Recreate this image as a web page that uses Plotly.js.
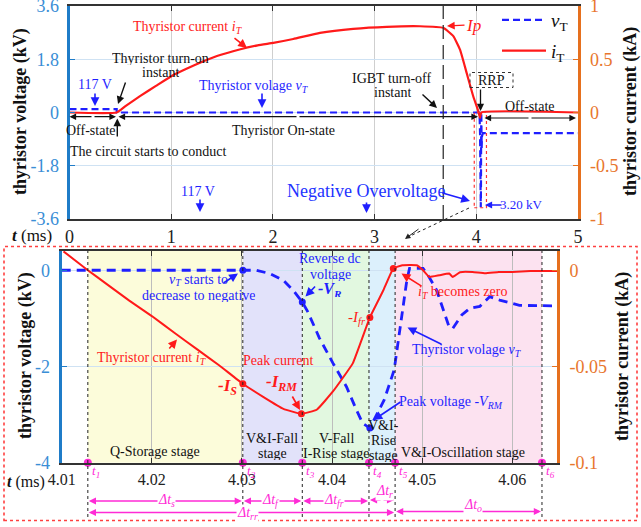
<!DOCTYPE html>
<html><head><meta charset="utf-8">
<script src="https://cdn.plot.ly/plotly-3.0.1.min.js"></script>
<style>html,body{margin:0;padding:0;background:#fff}#c{width:641px;height:527px}</style>
</head><body><div id="c"></div>
<script>
// ---------- data ----------
// Top panel, whole event (ms)
const topTimeI = [0, 0.464, 0.55, 0.693, 0.85, 1.005, 1.15, 1.283, 1.45, 1.672, 1.85, 2.004, 2.2, 2.463, 2.79, 3.119, 3.446, 3.675, 3.774, 3.84, 3.905, 3.97, 4.02, 4.036, 4.05, 5];
const topCurrent = [0, 0, 0.06, 0.154, 0.25, 0.343, 0.41, 0.467, 0.53, 0.592, 0.63, 0.654, 0.69, 0.748, 0.786, 0.805, 0.81, 0.795, 0.717, 0.59, 0.372, 0.153, 0.012, -0.05, 0, 0];
const topTimeV = [0, 0.464, 0.464, 4.03, 4.033, 4.037, 4.041, 4.044, 4.046, 4.048, 4.049, 4.051, 4.053, 4.056, 4.06, 4.065, 5];
const topVoltage = [0.117, 0.117, 0, 0, -0.2, -0.7, -2.2, -3.2, -2.6, -0.6, 0, -0.3, -1.2, -0.8, -0.7, -0.7, -0.7];

// Bottom panel, zoom on the turn-off (ms)
const zoomTimeV = [4.01, 4.0301, 4.0316, 4.0331, 4.0346, 4.0357, 4.0367, 4.0373, 4.0386, 4.0401, 4.0416, 4.0427, 4.0434, 4.0442, 4.0458, 4.0469, 4.0475, 4.0480, 4.0483, 4.0486, 4.0501, 4.0508, 4.0516, 4.0530, 4.0534, 4.0544, 4.0553, 4.0564, 4.0575, 4.0586, 4.0597, 4.0608, 4.0650];
const zoomVoltage = [0, 0, 0, -0.07, -0.21, -0.42, -0.66, -0.86, -1.41, -1.93, -2.42, -2.9, -3.18, -3.28, -2.69, -2.07, -1.31, -0.62, -0.21, 0.04, 0.04, -0.15, -0.41, -1.18, -1.21, -0.93, -0.79, -0.75, -0.55, -0.62, -0.68, -0.73, -0.74];
const zoomTimeI = [4.0102, 4.0129, 4.015, 4.0175, 4.02, 4.0225, 4.025, 4.0275, 4.0301, 4.0324, 4.0346, 4.0366, 4.0383, 4.0401, 4.0423, 4.0442, 4.0457, 4.0468, 4.0478, 4.0494, 4.0501, 4.0508, 4.0519, 4.053, 4.0534, 4.0542, 4.0556, 4.057, 4.0585, 4.06, 4.062, 4.065];
const zoomCurrent = [0.0098, 0, -0.0072, -0.0158, -0.0238, -0.0325, -0.041, -0.0495, -0.059, -0.0659, -0.072, -0.0746, -0.0725, -0.063, -0.0484, -0.0245, -0.0104, 0.0009, 0.0026, 0.0026, 0, -0.0035, -0.0026, -0.0017, -0.0035, -0.001, -0.0009, -0.0016, -0.0009, -0.0009, -0.0004, -0.0004];

// key points
const vKeyTime = [4.0301, 4.0367, 4.0442];
const vKeyVolt = [0, -0.66, -3.28];
const iKeyTime = [4.0301, 4.0366, 4.0442, 4.0468];
const iKeyCurr = [-0.059, -0.0746, -0.0245, 0.0009];

// stage boundaries t1..t6
const stageTimes = [4.0129, 4.0301, 4.0367, 4.0441, 4.0470, 4.0633];
const stageColors = ['rgba(252,252,218,1)', 'rgba(226,226,250,1)', 'rgba(226,248,224,1)', 'rgba(220,240,252,1)', 'rgba(252,226,240,1)'];
const igbtOff = 3.675;

// tick labels
const topXTicks = [0, 1, 2, 3, 4, 5];
const topVTicks = [-3.6, -1.8, 0, 1.8, 3.6];
const topVLabels = ['-3.6', '-1.8', '0', '1.8', '3.6'];
const topITicks = [-1, -0.5, 0, 0.5, 1];
const topILabels = ['-1', '-0.5', '0', '0.5', '1'];
const zoomXTicks = [4.01, 4.02, 4.03, 4.04, 4.05, 4.06];
const zoomXLabels = ['4.01', '4.02', '4.03', '4.04', '4.05', '4.06'];
const zoomVTicks = [-4, -2, 0];
const zoomVLabels = ['-4', '-2', '0'];
const zoomITicks = [-0.1, -0.05, 0];
const zoomILabels = ['-0.1', '-0.05', '0'];

// ---------- layout helpers ----------
const W = 641, H = 527;
const P = x => x / W, Q = y => 1 - y / H;
const BLUE = '#1f1fff', RED = '#ff1a1a', MAG = '#ff2bd6';
const AXB = '#1f7cc8', AXO = '#e6701e';
const FONT = 'Liberation Serif, Times New Roman, serif';

const ann = [];
function txt(x, y, text, color, size, extra) {
  ann.push(Object.assign({xref: 'paper', yref: 'paper', x: P(x), y: Q(y), text: text, showarrow: false,
    font: {family: FONT, size: size || 14, color: color || '#111'}, xanchor: 'center', yanchor: 'middle'}, extra || {}));
}
function arr(x1, y1, x2, y2, color, w) {
  ann.push({xref: 'paper', yref: 'paper', x: P(x2), y: Q(y2), ax: x1 - x2, ay: y1 - y2, axref: 'pixel', ayref: 'pixel',
    text: '', showarrow: true, arrowhead: 2, arrowsize: 1.1, arrowwidth: w || 1.3, arrowcolor: color || '#111', standoff: 0});
}

// ---------- traces ----------
const traces = [
  {x: topTimeV, y: topVoltage, xaxis: 'x', yaxis: 'y', mode: 'lines', name: '<i>v</i><sub>T</sub>', legendgroup: 'a',
   line: {color: BLUE, width: 2.2, dash: '7px,4px'}},
  {x: topTimeI, y: topCurrent, xaxis: 'x', yaxis: 'y3', mode: 'lines', name: '<i>i</i><sub>T</sub>', legendgroup: 'b',
   line: {color: RED, width: 2.2, shape: 'spline', smoothing: 0.4}},
  {x: zoomTimeV, y: zoomVoltage, xaxis: 'x2', yaxis: 'y2', mode: 'lines', showlegend: false,
   line: {color: BLUE, width: 2.8, dash: '9px,6px'}},
  {x: zoomTimeI, y: zoomCurrent, xaxis: 'x2', yaxis: 'y4', mode: 'lines', showlegend: false,
   line: {color: RED, width: 2, shape: 'spline', smoothing: 0.3}},
  {x: vKeyTime, y: vKeyVolt, xaxis: 'x2', yaxis: 'y2', mode: 'markers', showlegend: false, cliponaxis: false,
   marker: {color: BLUE, size: 7}},
  {x: iKeyTime, y: iKeyCurr, xaxis: 'x2', yaxis: 'y4', mode: 'markers', showlegend: false, cliponaxis: false,
   marker: {color: RED, size: 7}},
  {x: stageTimes, y: stageTimes.map(() => -4), xaxis: 'x2', yaxis: 'y2', mode: 'markers', showlegend: false, cliponaxis: false,
   marker: {color: MAG, size: 8}}
];

// ---------- shapes ----------
const shapes = [];
for (let k = 0; k < 5; k++) {
  shapes.push({type: 'rect', xref: 'x2', yref: 'y2 domain', x0: stageTimes[k], x1: stageTimes[k + 1], y0: 0, y1: 1,
    fillcolor: stageColors[k], line: {width: 0}, layer: 'below'});
}
stageTimes.forEach(t => shapes.push({type: 'line', xref: 'x2', yref: 'paper', x0: t, x1: t, y0: Q(517), y1: Q(251),
  line: {color: '#222', width: 1, dash: 'dot'}}));
shapes.push({type: 'line', xref: 'x', yref: 'y domain', x0: igbtOff, x1: igbtOff, y0: 0, y1: 1,
  line: {color: '#333', width: 1.3, dash: '14px,6px'}});
// RRP box
shapes.push({type: 'rect', xref: 'paper', yref: 'paper', x0: P(470), x1: P(513), y0: Q(87.5), y1: Q(72.5),
  line: {color: '#333', width: 1, dash: 'dot'}});
// zoom window in the top panel
shapes.push({type: 'rect', xref: 'x', yref: 'y', x0: 3.98, x1: 4.1, y0: -3.22, y1: 0,
  line: {color: '#ff3030', width: 1.2, dash: 'dot'}});
shapes.push({type: 'line', xref: 'paper', yref: 'paper', x0: P(469), y0: Q(208), x1: P(408), y1: Q(237),
  line: {color: '#222', width: 1, dash: 'dot'}});
// outer red dotted frame of the zoom panel
shapes.push({type: 'rect', xref: 'paper', yref: 'paper', x0: P(4), x1: P(637), y0: Q(520.5), y1: Q(246.5),
  line: {color: '#ff4040', width: 1.6, dash: 'dot'}});

// ---------- annotations: top panel ----------
const L = {height: 14};
txt(188, 27, 'Thyristor current <i>i<sub>T</sub></i>', RED, 14);
arr(233, 37, 247, 48, RED, 1.6);
txt(161, 58, 'Thyristor turn-on', '#111', 14, L);
txt(161, 72, 'instant', '#111', 14, L);
arr(126, 81, 118, 104, '#111', 1.4);
txt(95, 85, '117 V', BLUE, 14);
arr(95, 92, 95, 106, BLUE, 1.6);
txt(254, 86, 'Thyristor volage <i>v<sub>T</sub></i>', BLUE, 14);
arr(262, 92, 262, 108, BLUE, 1.6);
// state arrows on the zero line
arr(93, 116.7, 69.5, 116.7, '#111', 1.2); arr(93, 116.7, 116, 116.7, '#111', 1.2);
arr(298, 116.7, 118.5, 116.7, '#111', 1.2); arr(298, 116.7, 478, 116.7, '#111', 1.2);
arr(530, 118, 484.5, 118, '#111', 1.2); arr(530, 118, 576, 118, '#111', 1.2);
txt(91, 130, 'Off-state', '#111', 14);
txt(283, 130, 'Thyristor On-state', '#111', 14);
txt(530, 106, 'Off-state', '#111', 14);
arr(117.3, 138, 117.3, 118.5, '#111', 1.4);
txt(148, 151, 'The circuit starts to conduct', '#111', 14);
txt(198, 191, '117 V', BLUE, 14);
arr(200, 198, 200, 212, BLUE, 1.6);
txt(366, 191, 'Negative Overvoltage', '#2233ff', 18);
arr(441, 192.5, 470, 201, BLUE, 1.6);
arr(366.5, 201, 366.5, 213, BLUE, 1.6);
txt(521, 205, '3.20 kV', BLUE, 13);
arr(503, 205, 485, 205, BLUE, 1.3);
txt(392, 78, 'IGBT turn-off', '#111', 14, L);
txt(392, 92, 'instant', '#111', 14, L);
arr(421, 93, 437, 108, '#111', 1.4);
txt(473, 25, '<i>Ip</i>', RED, 17);
arr(466, 25, 447, 26, RED, 1.4);
txt(491.5, 80, 'RRP', '#111', 14);
arr(480.5, 88, 480.5, 111, '#111', 1.3);
arr(420, 228, 405, 239, '#222', 1);
// axis titles & t labels
txt(20, 112, '<b>thyristor voltage (kV)</b>', '#111', 18, {textangle: -90});
txt(630, 112, '<b>thyristor current (kA)</b>', '#111', 18, {textangle: -90});
txt(32, 236, '<b><i>t</i></b> (ms)', '#111', 17);
txt(25, 356, '<b>thyristor voltage (kV)</b>', '#111', 18, {textangle: -90});
txt(622, 357, '<b>thyristor current (kA)</b>', '#111', 18, {textangle: -90});
txt(26, 482, '<b><i>t</i></b> (ms)', '#111', 16);

// ---------- annotations: bottom panel ----------
txt(198, 280, '<i>v<sub>T</sub></i> starts to', BLUE, 14, L);
txt(199, 295, 'decrease to negative', BLUE, 14, L);
arr(222, 284, 238, 273.5, BLUE, 1.6);
txt(330, 258, 'Reverse dc', BLUE, 14, L);
txt(330, 274, 'voltage', BLUE, 14, L);
txt(330, 290, '<b><i>-V<sub>R</sub></i></b>', BLUE, 16, L);
arr(316.5, 285, 305.5, 296.5, BLUE, 1.6);
txt(152, 358, 'Thyristor current <i>i<sub>T</sub></i>', RED, 14);
arr(168, 350, 177, 339.5, RED, 1.6);
txt(278, 360, 'Peak current', RED, 14);
txt(281, 383, '<b><i>-I<sub>RM</sub></i></b>', RED, 17);
arr(291.5, 395, 300, 410, RED, 1.6);
txt(227, 387, '<b><i>-I<sub>S</sub></i></b>', RED, 17);
txt(357, 318, '<i>-I<sub>fr</sub></i>', RED, 15);
txt(462, 292, '<i>i<sub>T</sub></i> becomes zero', RED, 14);
arr(423, 287, 401.5, 273.5, RED, 1.6);
txt(467, 350, 'Thyristor volage <i>v<sub>T</sub></i>', BLUE, 14);
arr(443, 345, 407.5, 327.5, BLUE, 1.6);
txt(451, 402, 'Peak voltage -<i>V<sub>RM</sub></i>', BLUE, 14);
arr(402, 401, 373.5, 420, BLUE, 1.6);
// stage names
txt(155, 451, 'Q-Storage stage', '#111', 14);
txt(272, 438, 'V&I-Fall', '#111', 14, L);
txt(272, 453, 'stage', '#111', 14, L);
txt(336, 438, 'V-Fall', '#111', 14, L);
txt(336, 453, 'I-Rise stage', '#111', 14, L);
txt(383, 425, 'V&I-', '#111', 14, L);
txt(383, 440, 'Rise', '#111', 14, L);
txt(383, 455, 'stage', '#111', 14, L);
txt(463, 452, 'V&I-Oscillation stage', '#111', 14);
// t_k labels
stageTimes.forEach((t, k) => ann.push({xref: 'x2', yref: 'paper', x: t, y: Q(471), xanchor: 'left', yanchor: 'middle',
  xshift: 2, showarrow: false, text: '<i>t<sub>' + (k + 1) + '</sub></i>', font: {family: FONT, size: 13, color: MAG}}));
// interval arrows (double-headed)
function span(a, b, ypx) {
  [[a, b], [b, a]].forEach(([p, q]) => ann.push({xref: 'x2', yref: 'paper', x: q, y: Q(ypx), axref: 'x2', ax: (p + q) / 2,
    ayref: 'pixel', ay: 0, text: '', showarrow: true, arrowhead: 2, arrowsize: 1.1, arrowwidth: 1.3, arrowcolor: MAG, standoff: 1}));
}
span(stageTimes[0], stageTimes[1], 501);
span(stageTimes[1], stageTimes[2], 501);
span(stageTimes[2], stageTimes[3], 501);
span(stageTimes[3], stageTimes[4], 500);
span(stageTimes[0], stageTimes[4], 512.5);
span(stageTimes[4], stageTimes[5], 511.5);
function dlab(x, y, s) {
  txt(x, y, '<i>Δt<sub>' + s + '</sub></i>', MAG, 14, {bgcolor: '#fff', borderpad: 0});
}
dlab(166, 500, 's'); dlab(270, 500, 'f'); dlab(334, 500, 'fr'); dlab(384, 491, 'r');
dlab(247, 513, 'rr'); dlab(473, 505, 'o');

// ---------- layout ----------
const axBase = {showline: true, ticks: 'inside', ticklen: 5, tickwidth: 1, zeroline: false, tickmode: 'array',
  ticklabeloverflow: 'allow', tickfont: {family: FONT, size: 18, color: '#222'}};
const layout = {
  width: W, height: H, margin: {l: 0, r: 0, t: 0, b: 0}, paper_bgcolor: '#fff', plot_bgcolor: 'rgba(0,0,0,0)',
  font: {family: FONT}, showlegend: true,
  legend: {x: P(497), y: Q(1), xanchor: 'left', yanchor: 'top', bgcolor: 'rgba(0,0,0,0)', borderwidth: 0,
    font: {family: FONT, size: 19, color: '#111'}, itemwidth: 44, tracegroupgap: 3, traceorder: 'grouped'},
  xaxis: Object.assign({}, axBase, {domain: [P(69.5), P(578)], range: [0, 5.0001], anchor: 'y', tickvals: topXTicks,
    linecolor: '#333', linewidth: 2, mirror: 'ticks', showgrid: true, gridcolor: '#cfcfcf', gridwidth: 1,
    tickcolor: '#333', ticklabelstandoff: 0}),
  yaxis: Object.assign({}, axBase, {domain: [Q(219), Q(6)], range: [-3.6001, 3.6001], anchor: 'x', tickvals: topVTicks,
    ticktext: topVLabels, linecolor: AXB, linewidth: 3, tickcolor: AXB, showgrid: true, gridcolor: '#cfe2f3',
    tickfont: {family: FONT, size: 18, color: '#3a8ed6'}, ticklabelstandoff: 4}),
  yaxis3: Object.assign({}, axBase, {overlaying: 'y', side: 'right', anchor: 'x', range: [-1.0001, 1.0001], tickvals: topITicks,
    ticktext: topILabels, linecolor: AXO, linewidth: 2.5, tickcolor: AXO, showgrid: false,
    tickfont: {family: FONT, size: 18, color: '#e8762d'}, ticklabelstandoff: 6}),
  xaxis2: Object.assign({}, axBase, {domain: [P(61.7), P(557.3)], range: [4.0099999, 4.065], anchor: 'y2',
    tickvals: zoomXTicks, ticktext: zoomXLabels, linecolor: '#333', linewidth: 2, mirror: 'ticks', showgrid: true,
    gridcolor: '#bdbdbd', tickcolor: '#333', tickfont: {family: FONT, size: 16, color: '#222'}, ticklabelstandoff: 1}),
  yaxis2: Object.assign({}, axBase, {domain: [Q(462.7), Q(251)], range: [-4.0001, 0.4], anchor: 'x2', tickvals: zoomVTicks,
    ticktext: zoomVLabels, linecolor: AXB, linewidth: 3, tickcolor: AXB, showgrid: true, gridcolor: '#cfe2f3',
    tickfont: {family: FONT, size: 18, color: '#3a8ed6'}, ticklabelstandoff: 5}),
  yaxis4: Object.assign({}, axBase, {overlaying: 'y2', side: 'right', anchor: 'x2', range: [-0.100001, 0.01],
    tickvals: zoomITicks, ticktext: zoomILabels, linecolor: AXO, linewidth: 2.5, tickcolor: AXO, showgrid: false,
    tickfont: {family: FONT, size: 18, color: '#e8762d'}, ticklabelstandoff: 6}),
  shapes: shapes, annotations: ann
};
Plotly.newPlot('c', traces, layout, {staticPlot: true, displayModeBar: false});
</script></body></html>
